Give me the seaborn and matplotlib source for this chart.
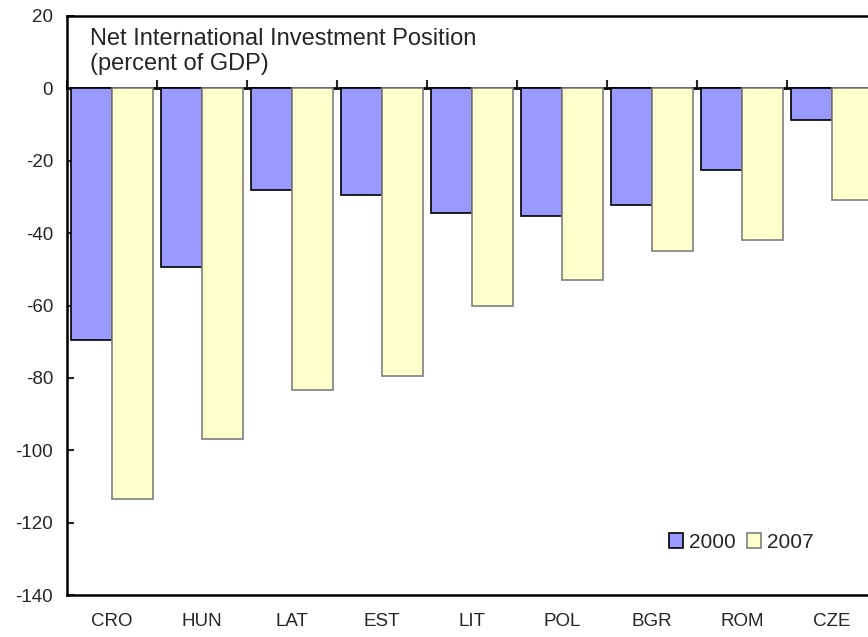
import numpy as np
import pandas as pd
import matplotlib
matplotlib.use("Agg")
import matplotlib.pyplot as plt
import seaborn as sns

# -------------------------------
# Data (percent of GDP)
# -------------------------------
countries = ["CRO", "HUN", "LAT", "EST", "LIT", "POL", "BGR", "ROM", "CZE"]
years = ["2000", "2007"]
niip_2000 = [-69.5, -49.3, -28.1, -29.6, -34.5, -35.2, -32.2, -22.6, -8.8]
niip_2007 = [-113.5, -96.9, -83.4, -79.5, -60.0, -52.9, -44.9, -42.0, -30.9]

df = pd.DataFrame({
    "country": countries * 2,
    "year": [years[0]] * len(countries) + [years[1]] * len(countries),
    "value": niip_2000 + niip_2007,
})

palette = {"2000": "#9999FF", "2007": "#FFFFCC"}
edges = {"2000": "#000000", "2007": "#7F7F7F"}

# -------------------------------
# Style
# -------------------------------
sns.set_style("white")
plt.rcParams["font.family"] = ["Liberation Sans", "DejaVu Sans"]
plt.rcParams["axes.unicode_minus"] = False

fig = plt.figure(figsize=(8.68, 6.37), dpi=100)
ax = fig.add_axes([67 / 868, 42 / 637, 810 / 868, 579 / 637])

sns.barplot(
    data=df, x="country", y="value", hue="year",
    order=countries, hue_order=years, palette=palette,
    width=0.92, gap=0, saturation=1, legend=False, ax=ax,
)

for cont, yr in zip(ax.containers, years):
    for p in cont.patches:
        p.set_edgecolor(edges[yr])
        p.set_linewidth(1.2)

ax.set_xlim(-0.5, len(countries) - 0.5)
ax.set_ylim(-140, 20)
ax.set_yticks(np.arange(-140, 21, 20))
ax.set_xlabel("")
ax.set_ylabel("")

for s in ax.spines.values():
    s.set_color("black")
    s.set_linewidth(1.8)

ax.tick_params(axis="y", direction="in", length=5, width=1.5,
               labelsize=13.5, pad=10, left=True)
ax.tick_params(axis="x", length=0, labelsize=13.5, pad=13)

# zero line with category separators
zero = ax.secondary_xaxis(140 / 160)
zero.set_xticks(np.arange(-0.5, len(countries), 1))
zero.set_xticklabels([])
zero.tick_params(direction="out", length=6, width=1.5,
                 labeltop=False, labelbottom=False)
for s in zero.spines.values():
    s.set_linewidth(2)
    s.set_color("black")

fig.text(90 / 868, 1 - 45 / 637, "Net International Investment Position",
         fontsize=17, va="baseline", ha="left")
fig.text(90 / 868, 1 - 70 / 637, "(percent of GDP)",
         fontsize=17, va="baseline", ha="left")

handles = [ax.containers[0].patches[0], ax.containers[1].patches[0]]
ax.legend(handles, years, loc="center", bbox_to_anchor=(741 / 868, 1 - 542 / 637),
          bbox_transform=fig.transFigure, ncol=2, frameon=False, fontsize=15,
          handlelength=0.7, handleheight=0.7, handletextpad=0.25,
          columnspacing=0.55, borderpad=0)

plt.savefig("out.png", dpi=100)
plt.close()
